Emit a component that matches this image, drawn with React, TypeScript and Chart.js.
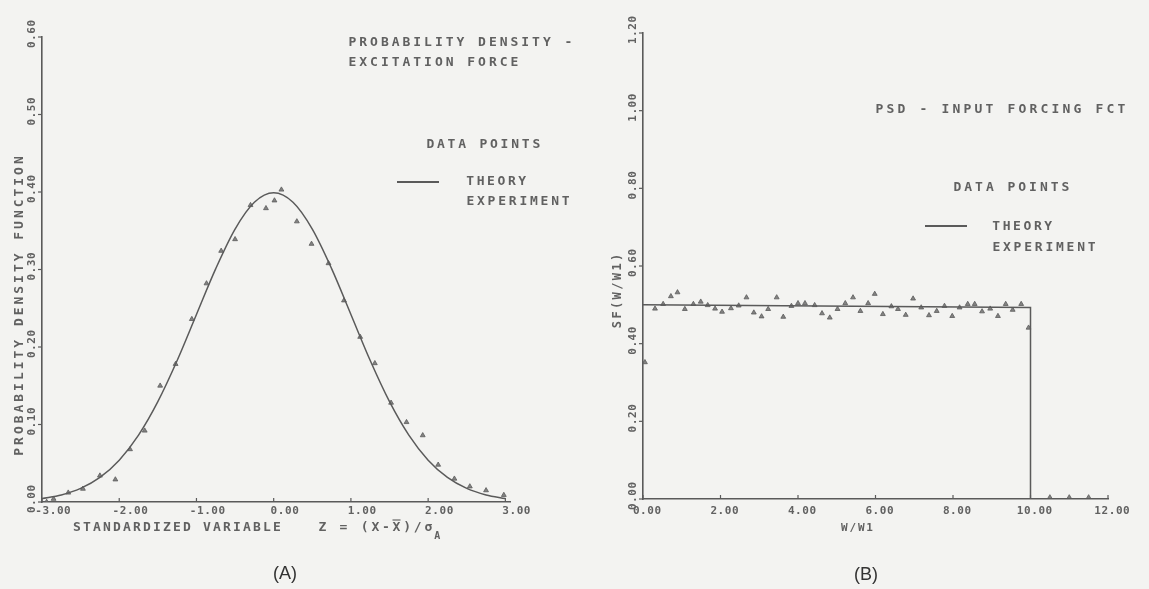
import React, { useEffect, useRef } from "react";
import { Chart, registerables } from "chart.js";

Chart.register(...registerables);

// ---------- Data: (A) probability density ----------
const pdfTheoryZ = [-3.0, -2.75, -2.5, -2.25, -2.0, -1.75, -1.5, -1.25, -1.0, -0.75, -0.5, -0.25, 0.0, 0.25, 0.5, 0.75, 1.0, 1.25, 1.5, 1.75, 2.0, 2.25, 2.5, 2.75, 3.0];
const pdfTheoryP = [0.0044, 0.0091, 0.0175, 0.0317, 0.054, 0.0863, 0.1295, 0.1826, 0.242, 0.3011, 0.3521, 0.3867, 0.3989, 0.3867, 0.3521, 0.3011, 0.242, 0.1826, 0.1295, 0.0863, 0.054, 0.0317, 0.0175, 0.0091, 0.0044];
const pdfExpZ = [-2.94, -2.85, -2.66, -2.47, -2.25, -2.05, -1.86, -1.67, -1.47, -1.27, -1.06, -0.87, -0.68, -0.5, -0.3, -0.1, 0.01, 0.1, 0.3, 0.49, 0.71, 0.91, 1.12, 1.31, 1.52, 1.72, 1.93, 2.13, 2.34, 2.54, 2.75, 2.98];
const pdfExpP = [0.0, 0.004, 0.012, 0.017, 0.034, 0.029, 0.068, 0.092, 0.15, 0.178, 0.236, 0.282, 0.324, 0.339, 0.383, 0.379, 0.389, 0.403, 0.362, 0.333, 0.308, 0.26, 0.213, 0.179, 0.128, 0.103, 0.086, 0.048, 0.03, 0.02, 0.015, 0.009];
const pdfXTicks = [-3, -2, -1, 0, 1, 2, 3];
const pdfYTicks = [0, 0.1, 0.2, 0.3, 0.4, 0.5, 0.6];

// ---------- Data: (B) PSD ----------
const psdTheoryW = [0, 10, 10, 12];
const psdTheoryS = [0.5, 0.493, 0, 0];
const psdExpW = [0.05, 0.31, 0.52, 0.72, 0.89, 1.08, 1.3, 1.49, 1.67, 1.86, 2.04, 2.27, 2.47, 2.67, 2.86, 3.06, 3.23, 3.45, 3.62, 3.83, 4.0, 4.18, 4.43, 4.62, 4.82, 5.02, 5.22, 5.42, 5.61, 5.81, 5.98, 6.19, 6.41, 6.58, 6.78, 6.97, 7.18, 7.38, 7.58, 7.78, 7.98, 8.17, 8.38, 8.56, 8.75, 8.96, 9.16, 9.36, 9.54, 9.76, 9.95, 10.5, 11.0, 11.5];
const psdExpS = [0.352, 0.49, 0.502, 0.522, 0.532, 0.489, 0.502, 0.508, 0.499, 0.49, 0.482, 0.491, 0.498, 0.519, 0.48, 0.47, 0.489, 0.519, 0.469, 0.497, 0.504, 0.504, 0.499, 0.478, 0.467, 0.489, 0.504, 0.519, 0.484, 0.504, 0.528, 0.476, 0.496, 0.489, 0.474, 0.516, 0.493, 0.473, 0.484, 0.497, 0.471, 0.493, 0.502, 0.502, 0.483, 0.49, 0.471, 0.502, 0.487, 0.502, 0.441, 0.004, 0.004, 0.004];
const psdXTicks = [0, 2, 4, 6, 8, 10, 12];
const psdYTicks = [0, 0.2, 0.4, 0.6, 0.8, 1.0, 1.2];

const INK = "#5a5a5a";
const MONO = "'DejaVu Sans Mono', 'Liberation Mono', monospace";

function drawSpaced(
  ctx: CanvasRenderingContext2D,
  text: string,
  x: number,
  y: number,
  adv: number,
  size: number,
  align: "left" | "center" = "left",
  rot = false
): number[] {
  const chars = Array.from(text);
  const total = chars.length * adv;
  ctx.save();
  ctx.translate(x, y);
  if (rot) ctx.rotate(-Math.PI / 2);
  ctx.font = `bold ${size}px ${MONO}`;
  ctx.fillStyle = "#616161";
  ctx.textAlign = "center";
  ctx.textBaseline = "middle";
  const start = align === "center" ? -total / 2 : 0;
  const centers: number[] = [];
  chars.forEach((c, i) => {
    const cx = start + adv * (i + 0.5);
    ctx.fillText(c, cx, 0);
    centers.push(x + cx);
  });
  ctx.restore();
  return centers;
}

function hline(ctx: CanvasRenderingContext2D, x1: number, x2: number, y: number, w = 1.6) {
  ctx.save();
  ctx.strokeStyle = INK;
  ctx.lineWidth = w;
  ctx.beginPath();
  ctx.moveTo(x1, y);
  ctx.lineTo(x2, y);
  ctx.stroke();
  ctx.restore();
}

function drawAxesDecor(
  chart: any,
  xTicks: number[],
  yTicks: number[],
  xLabelOffset: number,
  xLabelY: number,
  yLabelX: number
) {
  const ctx: CanvasRenderingContext2D = chart.ctx;
  const xs = chart.scales.x;
  const ys = chart.scales.y;
  const area = chart.chartArea;
  ctx.save();
  ctx.strokeStyle = INK;
  ctx.lineWidth = 1.2;
  xTicks.forEach((v) => {
    const px = xs.getPixelForValue(v);
    ctx.beginPath();
    ctx.moveTo(px, area.bottom);
    ctx.lineTo(px, area.bottom - 4);
    ctx.stroke();
    drawSpaced(ctx, v.toFixed(2), px + xLabelOffset, xLabelY, 7.2, 11, "center");
  });
  yTicks.forEach((v) => {
    const py = ys.getPixelForValue(v);
    ctx.beginPath();
    ctx.moveTo(area.left, py);
    ctx.lineTo(area.left - 4, py);
    ctx.stroke();
    drawSpaced(ctx, v.toFixed(2), yLabelX, py - 3, 7.2, 11, "center", true);
  });
  ctx.restore();
}

const decorA = {
  id: "decorA",
  afterDraw(chart: any) {
    const ctx: CanvasRenderingContext2D = chart.ctx;
    drawAxesDecor(chart, pdfXTicks, pdfYTicks, 11, 511, 32);
    drawSpaced(ctx, "PROBABILITY DENSITY FUNCTION", 20, 306, 10.8, 13, "center", true);
    drawSpaced(ctx, "STANDARDIZED VARIABLE", 72, 528, 10, 13, "left");
    const c = drawSpaced(ctx, "Z = (X-X)/σ", 317, 528, 10.6, 13, "left");
    hline(ctx, c[7] - 4, c[7] + 4, 520, 1.1);
    drawSpaced(ctx, "A", c[10] + 9, 536, 7, 10, "center");
    drawSpaced(ctx, "PROBABILITY DENSITY -", 347, 43, 10.8, 13, "left");
    drawSpaced(ctx, "EXCITATION FORCE", 347, 63, 10.8, 13, "left");
    drawSpaced(ctx, "DATA POINTS", 425, 145, 10.6, 13, "left");
    hline(ctx, 397, 439, 182, 2);
    drawSpaced(ctx, "THEORY", 465, 182, 10.4, 13, "left");
    drawSpaced(ctx, "EXPERIMENT", 465, 202, 10.6, 13, "left");
    ctx.save();
    ctx.font = "18px 'Liberation Sans', Arial, sans-serif";
    ctx.fillStyle = "#333";
    ctx.textAlign = "center";
    ctx.textBaseline = "middle";
    ctx.fillText("(A)", 285, 574);
    ctx.restore();
  },
};

const decorB = {
  id: "decorB",
  afterDraw(chart: any) {
    const ctx: CanvasRenderingContext2D = chart.ctx;
    drawAxesDecor(chart, psdXTicks, psdYTicks, 4, 511, 53);
    drawSpaced(ctx, "SF(W/W1)", 38, 291, 9.6, 12, "center", true);
    drawSpaced(ctx, "W/W1", 277, 528, 8.4, 11, "center");
    drawSpaced(ctx, "PSD - INPUT FORCING FCT", 294, 110, 11, 13, "left");
    drawSpaced(ctx, "DATA POINTS", 372, 188, 10.8, 13, "left");
    hline(ctx, 345, 387, 226, 2);
    drawSpaced(ctx, "THEORY", 411, 227, 10.4, 13, "left");
    drawSpaced(ctx, "EXPERIMENT", 411, 248, 10.6, 13, "left");
    ctx.save();
    ctx.font = "18px 'Liberation Sans', Arial, sans-serif";
    ctx.fillStyle = "#333";
    ctx.textAlign = "center";
    ctx.textBaseline = "middle";
    ctx.fillText("(B)", 286, 575);
    ctx.restore();
  },
};

function axisOpts(min: number, max: number) {
  return {
    type: "linear" as const,
    min,
    max,
    ticks: { display: false },
    grid: { display: false, drawTicks: false },
    border: { display: true, color: INK, width: 1.6 },
    title: { display: false },
  };
}

function buildConfig(
  theoryX: number[],
  theoryY: number[],
  expX: number[],
  expY: number[],
  xr: [number, number],
  yr: [number, number],
  padding: { left: number; right: number; top: number; bottom: number },
  plugin: any,
  smooth: boolean
): any {
  return {
    type: "scatter",
    data: {
      datasets: [
        {
          label: "THEORY",
          data: theoryX.map((x, i) => ({ x, y: theoryY[i] })),
          showLine: true,
          borderColor: INK,
          borderWidth: 1.5,
          pointRadius: 0,
          cubicInterpolationMode: smooth ? "monotone" : "default",
          tension: 0,
          fill: false,
        },
        {
          label: "EXPERIMENT",
          data: expX.map((x, i) => ({ x, y: expY[i] })),
          showLine: false,
          pointStyle: "triangle",
          pointRadius: 2.8,
          backgroundColor: "rgba(110,110,110,0.85)",
          borderColor: "#5a5a5a",
          borderWidth: 0.8,
        },
      ],
    },
    options: {
      responsive: false,
      animation: false,
      devicePixelRatio: 1,
      layout: { padding, autoPadding: false },
      plugins: { legend: { display: false }, tooltip: { enabled: false }, title: { display: false } },
      scales: { x: axisOpts(xr[0], xr[1]), y: axisOpts(yr[0], yr[1]) },
      events: [],
    },
    plugins: [plugin],
  };
}

export default function App() {
  const refA = useRef<HTMLCanvasElement | null>(null);
  const refB = useRef<HTMLCanvasElement | null>(null);

  useEffect(() => {
    const chartA = new Chart(
      refA.current as HTMLCanvasElement,
      buildConfig(
        pdfTheoryZ,
        pdfTheoryP,
        pdfExpZ,
        pdfExpP,
        [-3, 3.06],
        [0, 0.6],
        { left: 42, right: 70, top: 37, bottom: 87 },
        decorA,
        true
      )
    );
    const chartB = new Chart(
      refB.current as HTMLCanvasElement,
      buildConfig(
        psdTheoryW,
        psdTheoryS,
        psdExpW,
        psdExpS,
        [0, 12],
        [0, 1.2],
        { left: 63, right: 41, top: 33, bottom: 90 },
        decorB,
        false
      )
    );
    return () => {
      chartA.destroy();
      chartB.destroy();
    };
  }, []);

  return (
    <div
      style={{
        position: "fixed",
        left: 0,
        top: 0,
        width: 1149,
        height: 589,
        background: "#f3f3f1",
        overflow: "hidden",
      }}
    >
      <canvas ref={refA} width={580} height={589} style={{ position: "absolute", left: 0, top: 0, width: 580, height: 589 }} />
      <canvas ref={refB} width={569} height={589} style={{ position: "absolute", left: 580, top: 0, width: 569, height: 589 }} />
    </div>
  );
}
